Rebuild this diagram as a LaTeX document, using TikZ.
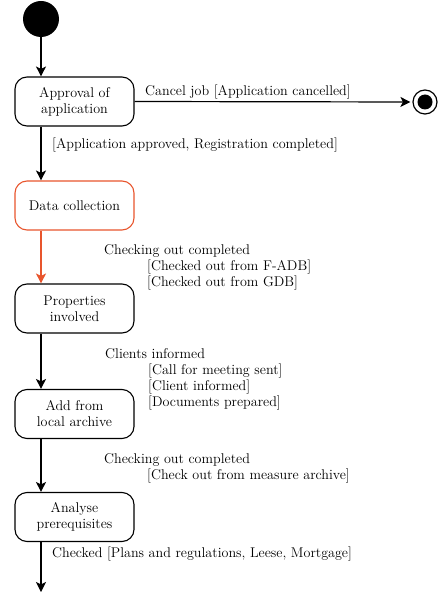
\documentclass[tikz,border=0pt]{standalone}
\usetikzlibrary{arrows.meta,calc}
\definecolor{dcorange}{RGB}{232,85,45}
\begin{document}
\begin{tikzpicture}[x=1pt,y=-1pt,
  font=\fontsize{14.1}{16}\selectfont,
  state/.style={draw, line width=1.1pt, rounded corners=12pt, minimum width=119pt, minimum height=49pt, align=center, inner sep=0pt},
  flow/.style={line width=1.2pt, -{Stealth[length=10pt,width=10pt,inset=2.5pt]}},
  lbl/.style={anchor=north west, inner sep=0pt, align=left},
  lblb/.style={anchor=base west, inner sep=0pt}]
\useasboundingbox (0,0) rectangle (438,593);
\coordinate (col) at (41,0);
\coordinate (end) at (41,592);
\node[circle, fill=black, minimum size=36pt, inner sep=0pt] (start) at (41,19) {};
\node[state] (approve) at (74.5,101.5) {Approval of\\application};
\node[state, draw=dcorange] (data) at (74.5,205.5) {Data collection};
\node[state] (props) at (74.5,308.5) {Properties\\involved};
\node[state] (add) at (74.5,414) {Add from\\local archive};
\node[state] (analyse) at (74.5,517) {Analyse\\prerequisites};
\node[circle, draw, line width=1.2pt, minimum size=24pt, inner sep=0pt] (final) at (425,102) {};
\node[circle, fill=black, minimum size=15pt, inner sep=0pt] (finaldot) at (final.center) {};

\draw[flow] (start.south) -- (approve.north -| col);
\draw[flow, shorten >=2pt] (approve.east) -- (final.west);
\draw[flow] (approve.south -| col) -- (data.north -| col);
\draw[flow, color=dcorange] (data.south -| col) -- (props.north -| col);
\draw[flow] (props.south -| col) -- (add.north -| col);
\draw[flow] (add.south -| col) -- (analyse.north -| col);
\draw[flow] (analyse.south -| col) -- (end);

\node[lblb] (lcancel) at (145,96) {Cancel job [Application cancelled]};
\node[lblb] (lapproved) at (52,148.5) {[Application approved, Registration completed]};
\node[lbl] (lcheck1) at (104,242.8) {\strut Checking out completed\\\hspace*{43pt}\strut[Checked out from F-ADB]\\\hspace*{43pt}\strut[Checked out from GDB]};
\node[lbl] (lclients) at (105,346.8) {\strut Clients informed\\\hspace*{43pt}\strut[Call for meeting sent]\\\hspace*{43pt}\strut[Client informed]\\\hspace*{43pt}\strut[Documents prepared]};
\node[lbl] (lcheck2) at (104,451.8) {\strut Checking out completed\\\hspace*{43pt}\strut[Check out from measure archive]};
\node[lblb] (lchecked) at (52,557.5) {Checked [Plans and regulations, Leese, Mortgage]};
\end{tikzpicture}
\end{document}
